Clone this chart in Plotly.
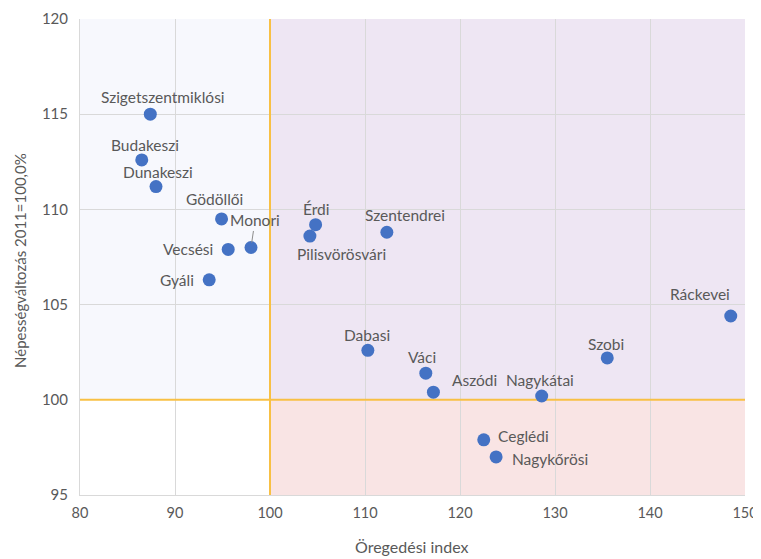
import plotly.graph_objects as go

names = ["Szigetszentmiklósi", "Budakeszi", "Dunakeszi", "Gödöllői", "Monori", "Vecsési",
         "Gyáli", "Érdi", "Pilisvörösvári", "Szentendrei", "Ráckevei", "Dabasi", "Szobi",
         "Váci", "Aszódi", "Nagykátai", "Ceglédi", "Nagykőrösi"]
aging_index = [87.4, 86.5, 88.0, 94.9, 98.0, 95.6, 93.6, 104.8, 104.2, 112.3, 148.5, 110.3,
               135.5, 116.4, 117.2, 128.6, 122.5, 123.8]
pop_change = [115.0, 112.6, 111.2, 109.5, 108.0, 107.9, 106.3, 109.2, 108.6, 108.8, 104.4,
              102.6, 102.2, 101.4, 100.4, 100.2, 97.9, 97.0]

x_ticks = [80, 90, 100, 110, 120, 130, 140, 150]
y_ticks = [95, 100, 105, 110, 115, 120]

# label placement: (xanchor, xshift, yshift)
label_pos = {
    "Szigetszentmiklósi": ("center", 13, 17),
    "Budakeszi": ("center", 3, 15),
    "Dunakeszi": ("center", 2, 15),
    "Gödöllői": ("center", -7, 20),
    "Vecsési": ("right", -13, 0),
    "Gyáli": ("right", -13, 0),
    "Érdi": ("center", 0, 16),
    "Pilisvörösvári": ("center", 32, -18),
    "Szentendrei": ("center", 18, 17),
    "Ráckevei": ("center", -31, 22),
    "Dabasi": ("center", -1, 15),
    "Szobi": ("center", -1, 14),
    "Váci": ("center", -4, 16),
    "Aszódi": ("center", 41, 12),
    "Nagykátai": ("center", -2, 16),
    "Ceglédi": ("left", 12, 4),
    "Nagykőrösi": ("left", 14, -2),
}

font_family = "Lato, Open Sans, sans-serif"
grey = "#595959"
lab_font = dict(size=15.5, color=grey, family=font_family)

fig = go.Figure()
fig.add_trace(go.Scatter(
    x=aging_index, y=pop_change, mode="markers",
    marker=dict(size=13, color="#4472C4"),
    hoverinfo="text", text=names, showlegend=False,
))

annotations = []
for n, xv, yv in zip(names, aging_index, pop_change):
    if n == "Monori":
        annotations.append(dict(x=xv, y=yv, xref="x", yref="y", text=n, showarrow=True,
                                arrowhead=0, arrowwidth=1, arrowcolor="#8c8c8c",
                                ax=4, ay=-27, standoff=5, font=lab_font))
        continue
    xa, xs, ys = label_pos[n]
    annotations.append(dict(x=xv, y=yv, xref="x", yref="y", text=n, showarrow=False,
                            xanchor=xa, yanchor="middle", xshift=xs, yshift=ys,
                            font=lab_font))

# axis titles (plot area is 665 x 476 px, starting at 80,19 in the window)
annotations.append(dict(text="Öregedési index", xref="paper", yref="paper",
                        x=(412 - 80) / 665, y=-(546 - 495) / 476,
                        xanchor="center", yanchor="middle", showarrow=False,
                        font=dict(size=16, color=grey, family=font_family)))
annotations.append(dict(text="Népességváltozás 2011=100,0%", xref="paper", yref="paper",
                        x=-(80 - 20) / 665, y=(495 - 261) / 476, xanchor="center",
                        yanchor="middle", textangle=-90, showarrow=False,
                        font=dict(size=15, color=grey, family=font_family)))

shapes = [
    dict(type="rect", xref="x", yref="y", x0=80, x1=100, y0=100, y1=120,
         fillcolor="#F7F8FD", line=dict(width=0), layer="below"),
    dict(type="rect", xref="x", yref="y", x0=100, x1=150, y0=100, y1=120,
         fillcolor="#EEE6F3", line=dict(width=0), layer="below"),
    dict(type="rect", xref="x", yref="y", x0=100, x1=150, y0=95, y1=100,
         fillcolor="#F9E4E4", line=dict(width=0), layer="below"),
    dict(type="line", xref="x", yref="y", x0=100, x1=100, y0=95, y1=120,
         line=dict(color="#F8C044", width=2), layer="between"),
    dict(type="line", xref="x", yref="y", x0=80, x1=150, y0=100, y1=100,
         line=dict(color="#F8C044", width=2), layer="between"),
]

# page body has an 8px default margin, so the figure is 8px smaller
fig.update_layout(
    width=753, height=551,
    margin=dict(l=72, r=16, t=11, b=64, autoexpand=False),
    paper_bgcolor="white", plot_bgcolor="white",
    font=dict(family=font_family, color=grey, size=14),
    shapes=shapes, annotations=annotations,
    xaxis=dict(range=[80, 150], tickvals=x_ticks, ticktext=[str(v) for v in x_ticks],
               showgrid=True, gridcolor="#D9D9D9", gridwidth=1, zeroline=False,
               showline=True, linecolor="#D9D9D9", linewidth=1, ticks="", automargin=False,
               tickfont=dict(size=14.5, color=grey), ticklabelstandoff=5),
    yaxis=dict(range=[95, 120], tickvals=y_ticks, ticktext=[str(v) for v in y_ticks],
               showgrid=True, gridcolor="#D9D9D9", gridwidth=1, zeroline=False,
               showline=True, linecolor="#D9D9D9", linewidth=1, ticks="", automargin=False,
               tickfont=dict(size=15, color=grey), ticklabelstandoff=8),
)

fig.write_html("out.html")
